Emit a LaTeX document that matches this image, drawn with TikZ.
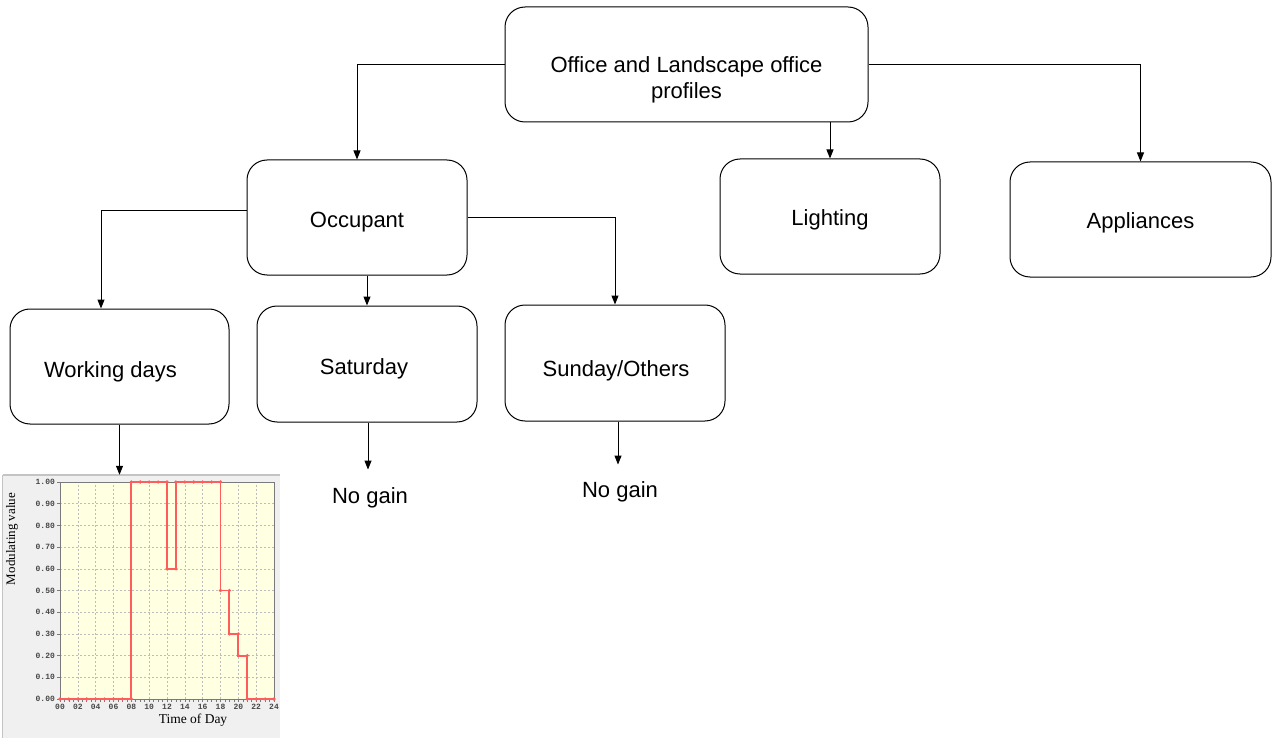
\documentclass[tikz,border=0pt]{standalone}
\usepackage{fontspec}
\setmainfont{Liberation Sans}
\newfontfamily\chartserif{Liberation Serif}
\newfontfamily\chartmono{Liberation Mono}
\usetikzlibrary{arrows.meta}

\definecolor{panelgray}{HTML}{F0F0F0}
\definecolor{paneledge}{HTML}{C4C4C4}
\definecolor{plotfill}{HTML}{FFFFE2}
\definecolor{gridgray}{HTML}{BDBDBD}
\definecolor{axisgray}{HTML}{7A7A7A}
\definecolor{curvered}{HTML}{FF5C5C}

% move a box caption by (#1 right, #2 down) without changing the node size
\newcommand\captionat[3]{\raisebox{-#2}[\height][\depth]{\kern#1\relax#3\kern-#1\relax}}

\begin{document}
\begin{tikzpicture}[x=1pt,y=-1pt,
  box/.style={draw, line width=1pt, rounded corners=20pt, minimum height=115pt,
    align=center, inner sep=0pt, font=\fontsize{22}{25.5}\selectfont},
  label/.style={inner sep=0pt, font=\fontsize{22}{25.5}\selectfont},
  arr/.style={-{Triangle[length=9pt,width=7pt]}, line width=1pt},
  gridline/.style={gridgray, line width=0.6pt, dash pattern=on 2pt off 2pt},
  ticklab/.style={inner sep=0pt, text=black!72, font=\chartmono\bfseries\fontsize{8}{9}\selectfont},
  curve/.style={curvered, line width=1.9pt, line join=miter},
  dot/.style={curvered, fill=curvered}]
\useasboundingbox (0,0) rectangle (1272,738);

% ---------- boxes ----------
\node[box, minimum width=363pt] (top) at (686.5,64.5)
  {\captionat{0pt}{16pt}{\begin{tabular}{@{}c@{}}Office and Landscape office\\profiles\end{tabular}}};
\node[box, minimum width=220pt] (occ) at (357,217.5) {\captionat{0pt}{5pt}{Occupant}};
\node[box, minimum width=220pt] (light) at (830,216.5) {\captionat{0pt}{3pt}{Lighting}};
\node[box, minimum width=261pt] (app) at (1140.5,219.5) {\captionat{0pt}{3pt}{Appliances}};
\node[box, minimum width=219pt] (work) at (119.5,366.5) {\captionat{-9pt}{5pt}{Working days}};
\node[box, minimum width=220pt, minimum height=116pt] (sat) at (367,364) {\captionat{-3pt}{5pt}{Saturday}};
\node[box, minimum width=220pt, minimum height=116pt] (sun) at (615,363) {\captionat{1pt}{8pt}{Sunday/Others}};

\node[label] (ng1) at (370,498) {No gain};
\node[label] (ng2) at (620,492) {No gain};

% ---------- working-day profile chart ----------
\node[fill=panelgray, minimum width=277pt, minimum height=263pt, inner sep=0pt] (panel) at (141.5,606.5) {};
\draw[paneledge, line width=2.5pt] (panel.north west) -- (panel.north east);
\draw[paneledge, line width=1pt] (panel.north west) -- (panel.south west);

\begin{scope}
\clip (panel.north west) rectangle (panel.south east);
\begin{scope}[shift={(60,699)}, x=8.917pt, y=217pt]
  \fill[plotfill] (0,0) rectangle (24,1);
  % grid
  \foreach \v in {0.1,0.2,...,0.95} \draw[gridline] (0,\v) -- (24,\v);
  \foreach \h in {2,4,...,22} \draw[gridline] (\h,0) -- (\h,1);
  \draw[axisgray, line width=1pt] (0,0) rectangle (24,1);
  % y ticks and labels
  \foreach \v/\t in {0/0.00,0.1/0.10,0.2/0.20,0.3/0.30,0.4/0.40,0.5/0.50,0.6/0.60,0.7/0.70,0.8/0.80,0.9/0.90,1/1.00} {
    \draw[axisgray, line width=0.6pt] (0,\v) -- (-0.35,\v);
    \node[ticklab, anchor=east] at (-0.55,\v) {\t};
  }
  % x ticks and labels
  \foreach \h in {0,0.5,...,24} \draw[axisgray, line width=0.6pt] (\h,0) -- (\h,-0.016);
  \foreach \h/\t in {0/00,2/02,4/04,6/06,8/08,10/10,12/12,14/14,16/16,18/18,20/20,22/22,24/24}
    \node[ticklab, anchor=north] at (\h,-0.022) {\t};
  % hourly schedule
  \draw[curve] (0,0) -- (8,0) -- (8,1) -- (12,1) -- (12,0.6) -- (13,0.6) -- (13,1)
    -- (18,1) -- (18,0.5) -- (19,0.5) -- (19,0.3) -- (20,0.3) -- (20,0.2) -- (21,0.2)
    -- (21,0) -- (24,0);
  \foreach \h in {0,...,8} \fill[dot] (\h,0) circle[radius=1.8pt];
  \foreach \h in {8,...,12} \fill[dot] (\h,1) circle[radius=1.8pt];
  \foreach \h in {12,13} \fill[dot] (\h,0.6) circle[radius=1.8pt];
  \foreach \h in {13,...,18} \fill[dot] (\h,1) circle[radius=1.8pt];
  \foreach \h in {18,19} \fill[dot] (\h,0.5) circle[radius=1.8pt];
  \foreach \h in {19,20} \fill[dot] (\h,0.3) circle[radius=1.8pt];
  \foreach \h in {20,21} \fill[dot] (\h,0.2) circle[radius=1.8pt];
  \foreach \h in {21,...,24} \fill[dot] (\h,0) circle[radius=1.8pt];
\end{scope}
\end{scope}
\node[inner sep=0pt, rotate=90, font=\chartserif\fontsize{13}{15}\selectfont] (ylab) at (12,539) {Modulating value};
\node[inner sep=0pt, font=\chartserif\fontsize{13.5}{15}\selectfont] (xlab) at (193,720) {Time of Day};

% ---------- connectors ----------
\draw[arr] (top.west) -| (occ.north);
\draw[arr] (light.north |- top.south) -- (light.north);
\draw[arr] (top.east) -| (app.north);
\draw[arr] ([yshift=7pt]occ.west) -| ([xshift=-18.5pt]work.north);
\draw[arr] (sat.north |- occ.south) -- (sat.north);
\draw[arr] (occ.east) -| (sun.north);
\draw[arr] (work.south) -- (work.south |- panel.north);
\draw[arr] ([xshift=1pt]sat.south) -- ([xshift=1pt,yshift=18pt]sat.south |- ng1.north);
\draw[arr] ([xshift=3pt]sun.south) -- ([xshift=3pt,yshift=17pt]sun.south |- ng2.north);
\end{tikzpicture}
\end{document}
